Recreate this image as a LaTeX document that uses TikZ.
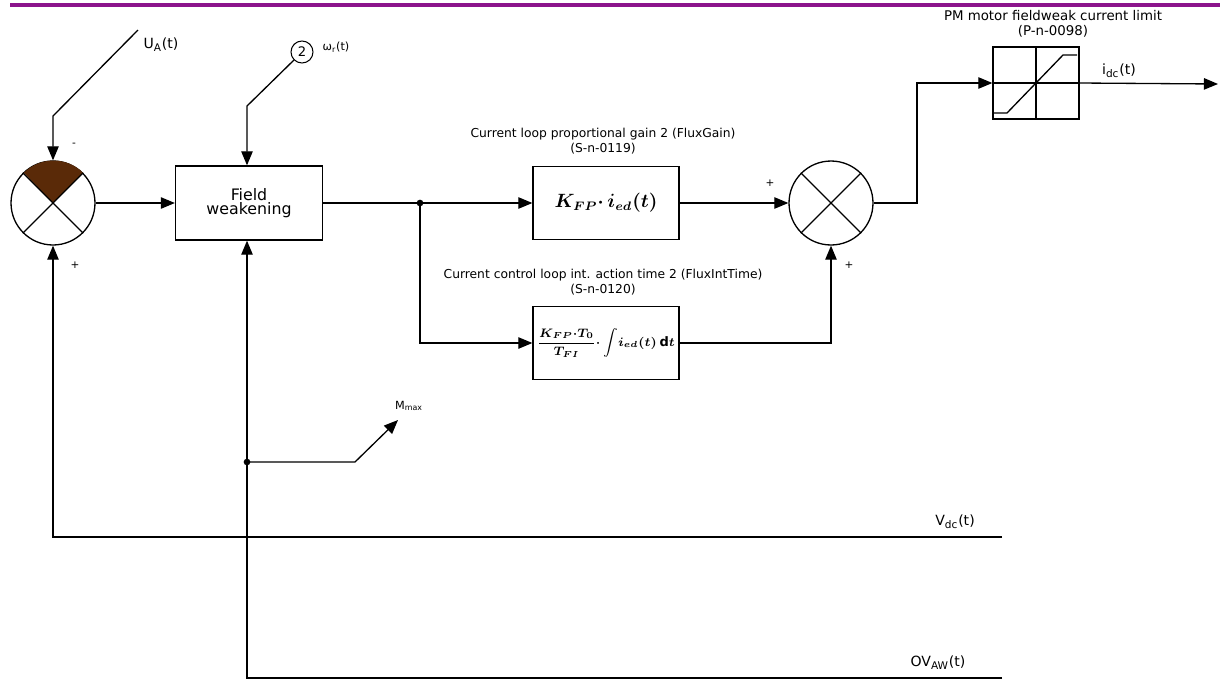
\documentclass[tikz,border=0pt]{standalone}
\usepackage{amsmath}
\usepackage{fontspec}
\setmainfont{DejaVu Sans}
\usetikzlibrary{arrows.meta}
\definecolor{barpurple}{RGB}{140,20,140}
\definecolor{wedgebrown}{RGB}{90,42,8}

\begin{document}
\begin{tikzpicture}[x=0.02cm,y=-0.02cm,
  line/.style={line width=0.75pt},
  sig/.style={line, -{Triangle[length=8pt,width=6.5pt]}},
  block/.style={draw, line width=0.75pt, minimum width=2.92cm, minimum height=1.45cm, inner sep=0pt},
  sumnode/.style={draw, circle, line width=0.75pt, minimum size=1.68cm, inner sep=0pt},
  lbl/.style={font=\fontsize{7}{8.4}\selectfont, align=center},
  sgnal/.style={font=\fontsize{8}{9}\selectfont},
  sgn/.style={font=\fontsize{6}{7}\selectfont},
  jdot/.style={circle, fill, inner sep=0pt, minimum size=3.8pt}]
\useasboundingbox (0,0) rectangle (1220,680);
\draw[line width=2.8pt, barpurple] (10,5) -- (1220,5);

\node[sumnode] (sumA) at (53,203) {};
\fill[wedgebrown] (sumA.center) -- (sumA.45) arc[start angle=45, end angle=135, radius=0.84cm] -- cycle;
\draw[line] (sumA.45) -- (sumA.225) (sumA.135) -- (sumA.315);
\node[sumnode] (sumB) at (831,203) {};
\draw[line] (sumB.45) -- (sumB.225) (sumB.135) -- (sumB.315);

\node[block, minimum width=2.94cm, minimum height=1.48cm, align=center, font=\fontsize{9}{8.2}\selectfont] (fw) at (249,203) {Field\\weakening};
\node[block, font=\fontsize{10.5}{12}\selectfont\boldmath] (kp) at (606,203) {$K_{FP}{\cdot}\,i_{ed}(t)$};
\node[block, font=\fontsize{7.4}{9}\selectfont\boldmath] (ki) at (606,343) {$\dfrac{K_{FP}{\cdot}T_0}{T_{FI}}{\cdot}\displaystyle\int\!i_{ed}(t)\,\mathrm{d}t$};
\node[block, minimum width=1.72cm, minimum height=1.44cm] (lim) at (1036,83) {};
\draw[line] (lim.west) -- (lim.east) (lim.north) -- (lim.south);
\draw[line] (994,113) -- (1007,113) -- (1063,55) -- (1077,55);
\node[draw, circle, line width=0.6pt, minimum size=0.44cm, inner sep=0pt, font=\fontsize{7.5}{8}\selectfont] (w2) at (302,52) {2};

\node[lbl] (kplbl) at (603,141) {Current loop proportional gain 2 (FluxGain)\\(S-n-0119)};
\node[lbl] (kilbl) at (603,282) {Current control loop int. action time 2 (FluxIntTime)\\(S-n-0120)};
\node[lbl, font=\fontsize{7.6}{8.6}\selectfont] (limlbl) at (1053,24) {PM motor fieldweak current limit\\(P-n-0098)};
\node[sgnal] (ualbl) at (161,45) {U\textsubscript{A}(t)};
\node[font=\fontsize{6.4}{7.6}\selectfont] (wlbl) at (336,47) {ω\textsubscript{r}(t)};
\node[font=\fontsize{6.4}{7.6}\selectfont] (mlbl) at (409,406) {M\textsubscript{max}};
\node[sgnal] (idclbl) at (1119,71) {i\textsubscript{dc}(t)};
\node[sgnal] (vdclbl) at (955,522) {V\textsubscript{dc}(t)};
\node[sgnal] (ovlbl) at (938,663) {OV\textsubscript{AW}(t)};
\node[sgn] at (74,145) {-};
\node[sgn] at (75,265) {+};
\node[sgn] at (770,183) {+};
\node[sgn] at (849,265) {+};

\coordinate (uastart) at (138,30);
\coordinate (uabend) at (53,116);
\coordinate (wbend) at (247,106);
\coordinate (jn) at (420,203);
\coordinate (rbend) at (917,203);
\coordinate (idcend) at (1218,84);
\coordinate (vdcend) at (1002,537);
\coordinate (ovend) at (1002,678);
\coordinate (mtap) at (247,462);
\coordinate (mknee) at (355,462);
\coordinate (mtip) at (398,420);

\draw[sig] (uastart) -- (uabend) -- (sumA.north);
\draw[sig] (w2.225) -- (wbend) -- (wbend |- fw.north);
\draw[sig] (sumA.east) -- (fw.west);
\draw[line] (fw.east) -- (jn);
\node[jdot] at (jn) {};
\draw[sig] (jn) -- (kp.west);
\draw[sig] (jn) |- (ki.west);
\draw[sig] (kp.east) -- (sumB.west);
\draw[sig] (ki.east) -| (sumB.south);
\draw[sig] (sumB.east) -- (rbend) |- (lim.west);
\draw[sig] (lim.east) -- (idcend);
\draw[sig] (vdcend) -- (vdcend -| sumA) -- (sumA.south);
\draw[sig] (ovend) -- (ovend -| wbend) -- (wbend |- fw.south);
\node[jdot] at (mtap) {};
\draw[sig] (mtap) -- (mknee) -- (mtip);
\end{tikzpicture}
\end{document}
